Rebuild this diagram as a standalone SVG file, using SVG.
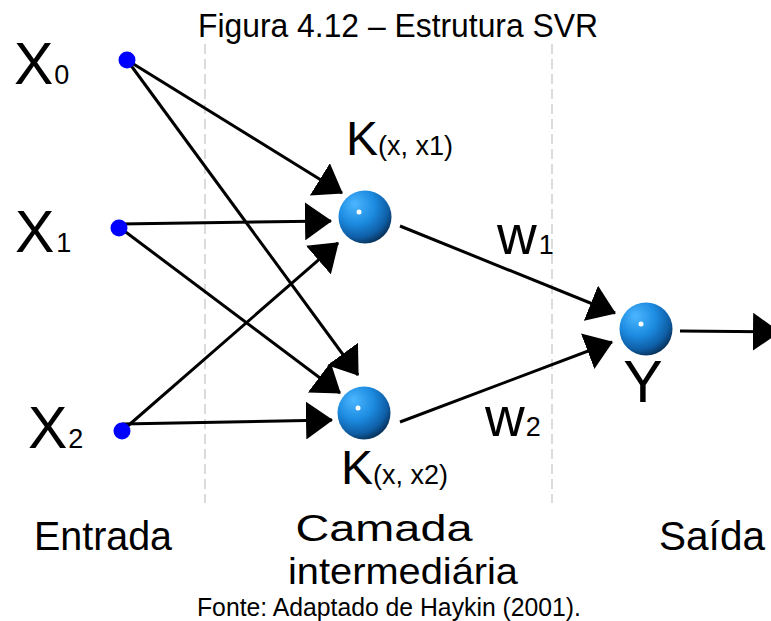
<svg xmlns="http://www.w3.org/2000/svg" width="771" height="621" viewBox="0 0 771 621">
  <defs>
    <style>
      text { font-family: "Liberation Sans", Arial, sans-serif; fill: #000; }
      .lbl { font-size: 59px; }
      .sub { font-size: 27px; }
      .ksub { font-size: 27px; }
      .w { font-size: 55px; }
      .cap { font-size: 33px; }
      .grp { font-size: 40px; }
      .mid { font-size: 37px; }
      .edge { stroke: #000; stroke-width: 3; fill: none; marker-end: url(#head); }
      .divider { stroke: #d0d0d0; stroke-width: 1.5; stroke-dasharray: 10 5; }
      .input { fill: #0000ff; }
      .ball { fill: url(#sphere); }
      .shine { fill: #fff; }
    </style>
    <radialGradient id="sphere" cx="0.38" cy="0.32" r="0.78" fx="0.3" fy="0.25">
      <stop offset="0" stop-color="#4cb6ff"/>
      <stop offset="0.45" stop-color="#1c8be0"/>
      <stop offset="0.75" stop-color="#0f5ea6"/>
      <stop offset="1" stop-color="#051c33"/>
    </radialGradient>
    <marker id="head" markerUnits="userSpaceOnUse" viewBox="0 0 27 38" markerWidth="27" markerHeight="38" refX="26" refY="19" orient="auto">
      <path d="M0,0 L27,19 L0,38 Z" fill="#000"/>
    </marker>
  </defs>

  <rect width="771" height="621" fill="#fff"/>

  <!-- title -->
  <text class="cap" x="398" y="37" text-anchor="middle" textLength="400" lengthAdjust="spacingAndGlyphs">Figura 4.12 – Estrutura SVR</text>

  <!-- layer dividers -->
  <g id="dividers">
    <line class="divider" x1="205" y1="44" x2="205" y2="503"/>
    <line class="divider" x1="552" y1="44" x2="552" y2="503"/>
  </g>

  <!-- connectors -->
  <g id="connectors">
    <line class="edge" x1="127" y1="60" x2="342" y2="193"/>
    <line class="edge" x1="127" y1="60" x2="358" y2="375"/>
    <line class="edge" x1="119" y1="224" x2="331" y2="221"/>
    <line class="edge" x1="119" y1="227" x2="340" y2="393"/>
    <line class="edge" x1="122" y1="431" x2="338" y2="243"/>
    <line class="edge" x1="122" y1="424" x2="332" y2="420"/>
    <line class="edge" x1="400" y1="226" x2="615" y2="313"/>
    <line class="edge" x1="400" y1="422" x2="612" y2="342"/>
    <line class="edge" x1="680" y1="331" x2="779" y2="332"/>
  </g>

  <!-- inputs -->
  <g id="x0">
    <circle class="input" cx="127" cy="60" r="8.5"/>
    <text class="lbl" x="14" y="84">X<tspan class="sub" dx="1">0</tspan></text>
  </g>
  <g id="x1">
    <circle class="input" cx="119" cy="228" r="8.5"/>
    <text class="lbl" x="15" y="252">X<tspan class="sub" dx="2">1</tspan></text>
  </g>
  <g id="x2">
    <circle class="input" cx="122" cy="431" r="8.5"/>
    <text class="lbl" x="28" y="448">X<tspan class="sub" dx="1">2</tspan></text>
  </g>

  <!-- hidden layer -->
  <g id="k1">
    <circle class="ball" cx="365" cy="217" r="26.5"/>
    <circle class="shine" cx="359" cy="212" r="2.5"/>
    <text x="346" y="155"><tspan style="font-size:48px">K</tspan><tspan class="ksub" dx="0">(x, x1)</tspan></text>
  </g>
  <g id="k2">
    <circle class="ball" cx="364" cy="413" r="26.5"/>
    <circle class="shine" cx="358" cy="408" r="2.5"/>
    <text x="341" y="484"><tspan style="font-size:48px">K</tspan><tspan class="ksub" dx="0">(x, x2)</tspan></text>
  </g>

  <!-- weights -->
  <g id="w1">
    <text class="w" x="497" y="254">w<tspan class="sub" dx="2">1</tspan></text>
  </g>
  <g id="w2">
    <text class="w" x="485" y="436">w<tspan class="sub" dx="1">2</tspan></text>
  </g>

  <!-- output -->
  <g id="y">
    <circle class="ball" cx="646" cy="329" r="26.5"/>
    <circle class="shine" cx="641" cy="324" r="2.5"/>
    <text class="lbl" x="643" y="402" text-anchor="middle">Y</text>
  </g>

  <!-- layer names -->
  <text class="grp" x="34" y="550" textLength="138" lengthAdjust="spacingAndGlyphs">Entrada</text>
  <text class="mid" x="384" y="541" text-anchor="middle" textLength="177" lengthAdjust="spacingAndGlyphs">Camada</text>
  <text class="mid" x="403" y="584" text-anchor="middle" textLength="230" lengthAdjust="spacingAndGlyphs">intermediária</text>
  <text class="grp" x="659" y="550" textLength="106" lengthAdjust="spacingAndGlyphs">Saída</text>

  <!-- source -->
  <text class="cap" x="389" y="616" text-anchor="middle" style="font-size:26px" textLength="384" lengthAdjust="spacingAndGlyphs">Fonte: Adaptado de Haykin (2001).</text>
</svg>
